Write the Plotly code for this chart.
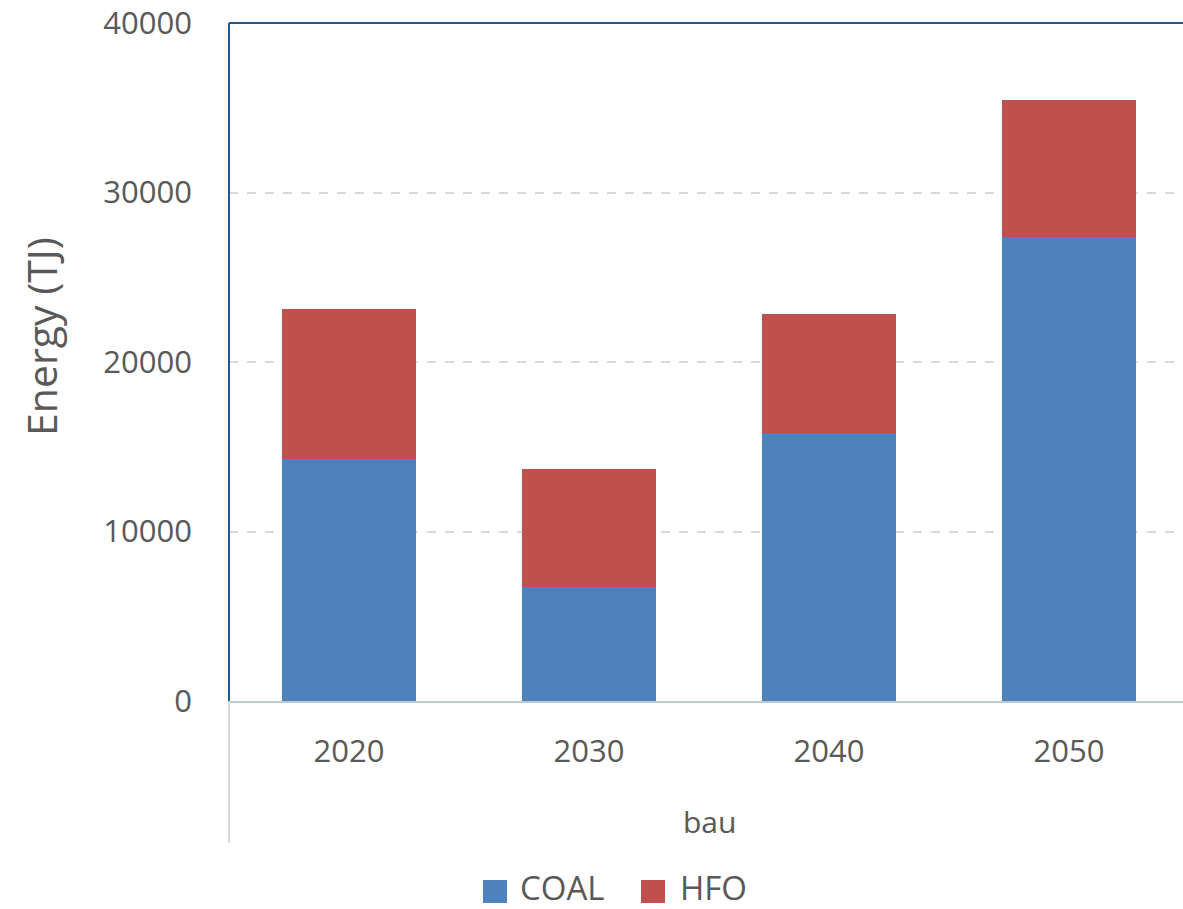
import plotly.graph_objects as go

# Energy use by fuel, business-as-usual scenario
years = ["2020", "2030", "2040", "2050"]
coal = [14280, 6730, 15810, 27380]
hfo = [8850, 6960, 7020, 8080]
series_names = ["COAL", "HFO"]
series_colors = ["#4F81BD", "#C0504D"]
y_ticks = [0, 10000, 20000, 30000, 40000]
scenario = "bau"

W, H = 1183, 909
ML, MR, MT, MB = 229, 0, 23, 208
PW, PH = W - ML - MR, H - MT - MB
TEXT = "#595959"
FONT = "Open Sans"


def px_x(x):
    return (x - ML) / PW


def px_y(y):
    return (H - MB - y) / PH


xs = list(range(len(years)))
fig = go.Figure()
for name, vals, col in zip(series_names, [coal, hfo], series_colors):
    fig.add_trace(go.Bar(
        x=xs, y=vals, name=name, marker_color=col,
        marker_line_width=0, width=0.555, showlegend=False,
    ))

fig.update_layout(
    barmode="stack",
    width=W, height=H,
    margin=dict(l=ML, r=MR, t=MT, b=MB, pad=0),
    paper_bgcolor="white", plot_bgcolor="white",
    font=dict(family=FONT, color=TEXT),
    xaxis=dict(
        range=[-0.5, -0.5 + PW / 240.0],
        tickmode="array", tickvals=xs, ticktext=years,
        tickfont=dict(size=31, color=TEXT),
        showgrid=False, zeroline=False,
        showline=True, linecolor="#BCC8D6", linewidth=2,
        ticks="", ticklabelstandoff=22,
    ),
    yaxis=dict(
        range=[0, 40000],
        tickmode="array", tickvals=y_ticks,
        ticktext=[str(v) for v in y_ticks],
        tickfont=dict(size=31, color=TEXT),
        showgrid=True, gridcolor="#D9D9D9", gridwidth=1.5, griddash="dash",
        zeroline=False, showline=False,
        ticks="", ticklabelstandoff=36,
    ),
)

# Dark frame on the left and top of the plot area
frame = "#1F5A8B"
fig.add_shape(type="line", xref="paper", yref="paper", x0=0, x1=0, y0=0, y1=1,
              line=dict(color=frame, width=2))
fig.add_shape(type="line", xref="paper", yref="paper", x0=0, x1=1, y0=1, y1=1,
              line=dict(color=frame, width=2))
# Category-group separator under the x axis
fig.add_shape(type="line", xref="paper", yref="paper", x0=0, x1=0,
              y0=0, y1=px_y(843), line=dict(color="#D9D9D9", width=2))

# Group label under the years
fig.add_annotation(text=scenario, xref="paper", yref="paper",
                   x=px_x(709), y=px_y(821), showarrow=False,
                   xanchor="center", yanchor="middle",
                   font=dict(size=30, color=TEXT, family=FONT))

# Y axis title
fig.add_annotation(text="Energy (TJ)", xref="paper", yref="paper",
                   x=px_x(41), y=px_y(337), showarrow=False, textangle=-90,
                   xanchor="center", yanchor="middle",
                   font=dict(size=41, color=TEXT, family=FONT))

# Legend: colour swatches with series names
legend_sq = [(483, 518), (641, 678)]
for (sx, tx), name, col in zip(legend_sq, series_names, series_colors):
    fig.add_shape(type="rect", xref="paper", yref="paper",
                  x0=px_x(sx), x1=px_x(sx + 24), y0=px_y(903), y1=px_y(880),
                  fillcolor=col, line_width=0)
    fig.add_annotation(text=name, xref="paper", yref="paper",
                       x=px_x(tx), y=px_y(887), showarrow=False,
                       xanchor="left", yanchor="middle",
                       font=dict(size=33, color=TEXT, family=FONT))

fig.write_html("out.html")
